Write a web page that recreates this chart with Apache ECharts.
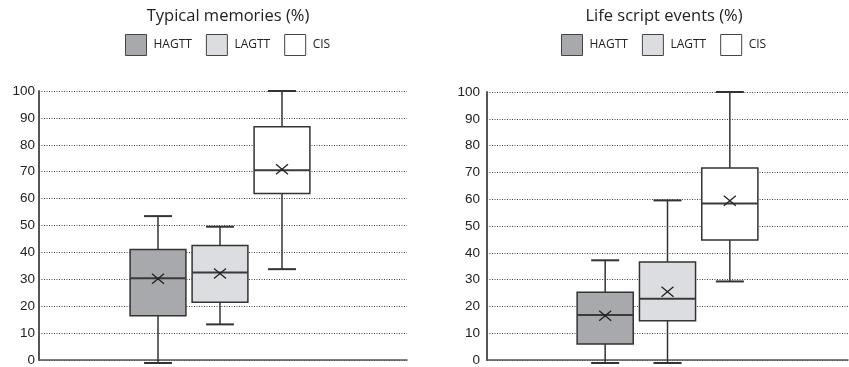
<!DOCTYPE html>
<html><head><meta charset="utf-8">
<script src="https://cdn.jsdelivr.net/npm/echarts@6/dist/echarts.min.js"></script>
<style>html,body{margin:0;padding:0;background:#fff}#c{width:849px;height:367px}</style>
</head><body><div id="c"></div>
<script>
// ---- data ----
const groups = ['HAGTT', 'LAGTT', 'CIS'];
const chartTitles = ['Typical memories (%)', 'Life script events (%)'];
const yTicks = [0, 10, 20, 30, 40, 50, 60, 70, 80, 90, 100];
// box stats: [min, Q1, median, Q3, max]
const typicalHAGTT = [0, 17.4, 31.2, 41.7, 54.0];
const typicalLAGTT = [14.2, 22.3, 33.3, 43.2, 50.1];
const typicalCIS   = [34.5, 62.3, 70.9, 86.9, 100];
const typicalMeans = [31.0, 32.9, 71.2];
const lifeHAGTT = [0, 7.0, 17.7, 26.1, 37.9];
const lifeLAGTT = [0, 15.6, 23.7, 37.3, 60.0];
const lifeCIS   = [30.1, 45.4, 58.9, 72.0, 100];
const lifeMeans = [17.4, 26.3, 59.9];

// ---- styles ----
const fills = ['#a8a9ac', '#dcdde0', '#ffffff'];
const boxStroke = '#333333';

const chartBoxes = [[typicalHAGTT, typicalLAGTT, typicalCIS], [lifeHAGTT, lifeLAGTT, lifeCIS]];
const chartMeans = [typicalMeans, lifeMeans];

const frameGrids = [
  {left: 39, right: 442, top: 91, bottom: 4},
  {left: 487, right: 1, top: 92, bottom: 4}
];
const boxGrids = [
  {left: 127, right: 849 - 313, top: 91, bottom: 4},
  {left: 574, right: 849 - 761, top: 92, bottom: 4}
];

function renderBox(params, api) {
  const g = api.value(0);
  const x = api.coord([g, 0])[0];
  const w = api.size([1, 0])[0] * 0.9;
  const y = i => api.coord([g, api.value(i)])[1];
  const yMin = y(1), yQ1 = y(2), yMed = y(3), yQ3 = y(4), yMax = y(5), yMean = y(6);
  const fill = fills[params.seriesIndex % 3];
  const lw = 1.5;
  const cap = w / 4;
  const m = 5;
  const lineStyle = {stroke: boxStroke, lineWidth: lw};
  return {
    type: 'group',
    children: [
      {type: 'line', shape: {x1: x, y1: yQ3, x2: x, y2: yMax}, style: lineStyle},
      {type: 'line', shape: {x1: x, y1: yQ1, x2: x, y2: yMin}, style: lineStyle},
      {type: 'line', shape: {x1: x - cap, y1: yMax, x2: x + cap, y2: yMax}, style: {stroke: boxStroke, lineWidth: 2}},
      {type: 'line', shape: {x1: x - cap, y1: yMin, x2: x + cap, y2: yMin}, style: {stroke: boxStroke, lineWidth: 2}},
      {type: 'rect', shape: {x: x - w / 2, y: yQ3, width: w, height: yQ1 - yQ3}, style: {fill: fill, stroke: boxStroke, lineWidth: lw}},
      {type: 'line', shape: {x1: x - w / 2, y1: yMed, x2: x + w / 2, y2: yMed}, style: {stroke: '#3a3a3a', lineWidth: 2}},
      {type: 'line', shape: {x1: x - m - 1, y1: yMean - m, x2: x + m + 1, y2: yMean + m}, style: {stroke: '#222', lineWidth: 1.3}},
      {type: 'line', shape: {x1: x - m - 1, y1: yMean + m, x2: x + m + 1, y2: yMean - m}, style: {stroke: '#222', lineWidth: 1.3}}
    ]
  };
}

const grid = [], xAxis = [], yAxis = [], series = [], legend = [], graphic = [];
[0, 1].forEach(c => {
  const fi = grid.length;
  grid.push(frameGrids[c]);
  xAxis.push({gridIndex: fi, type: 'value', min: 0, max: 1, axisLine: {show: true, onZero: false, lineStyle: {color: '#555', width: 1.5}},
    axisTick: {show: false}, axisLabel: {show: false}, splitLine: {show: false}});
  yAxis.push({gridIndex: fi, type: 'value', min: 0, max: 100, interval: 10,
    axisLine: {show: true, lineStyle: {color: '#555', width: 2}}, axisTick: {show: false},
    axisLabel: {color: '#222', fontSize: 13.5, fontFamily: 'Liberation Sans', margin: c === 0 ? 4 : 7,
      formatter: v => yTicks.indexOf(v) >= 0 ? String(v) : ''},
    splitLine: {show: true, lineStyle: {color: '#444', width: 1, type: [1, 1.5]}}});
  const bi = grid.length;
  grid.push(boxGrids[c]);
  xAxis.push({gridIndex: bi, type: 'category', data: groups, show: false});
  yAxis.push({gridIndex: bi, type: 'value', min: 0, max: 100, show: false});
  groups.forEach((name, g) => {
    const s = chartBoxes[c][g];
    series.push({
      type: 'custom', name: name, xAxisIndex: bi, yAxisIndex: bi,
      itemStyle: {color: fills[g], borderColor: boxStroke, borderWidth: 1},
      encode: {x: 0, y: [1, 2, 3, 4, 5, 6]},
      data: [[g, s[0], s[1], s[2], s[3], s[4], chartMeans[c][g]]],
      renderItem: renderBox, silent: true
    });
  });
  legend.push({
    left: c === 0 ? 125 : 561, top: 34, padding: 0, itemWidth: 21, itemHeight: 21, itemGap: 14,
    icon: 'rect', selectedMode: false,
    textStyle: {fontFamily: 'Open Sans', fontSize: 12, color: '#222', padding: [0, 0, 0, 2]},
    data: groups.map((n, g) => ({name: n, itemStyle: {color: fills[g], borderColor: '#444', borderWidth: 1}}))
  });
  graphic.push({type: 'text', x: c === 0 ? 228 : 664, y: 16,
    style: {text: chartTitles[c], fill: '#222', font: '16.5px "Open Sans"', textAlign: 'center', textVerticalAlign: 'middle'}});
});

const chart = echarts.init(document.getElementById('c'), null, {renderer: 'canvas'});
chart.setOption({animation: false, backgroundColor: '#fff', grid, xAxis, yAxis, series, legend, graphic});
</script></body></html>
